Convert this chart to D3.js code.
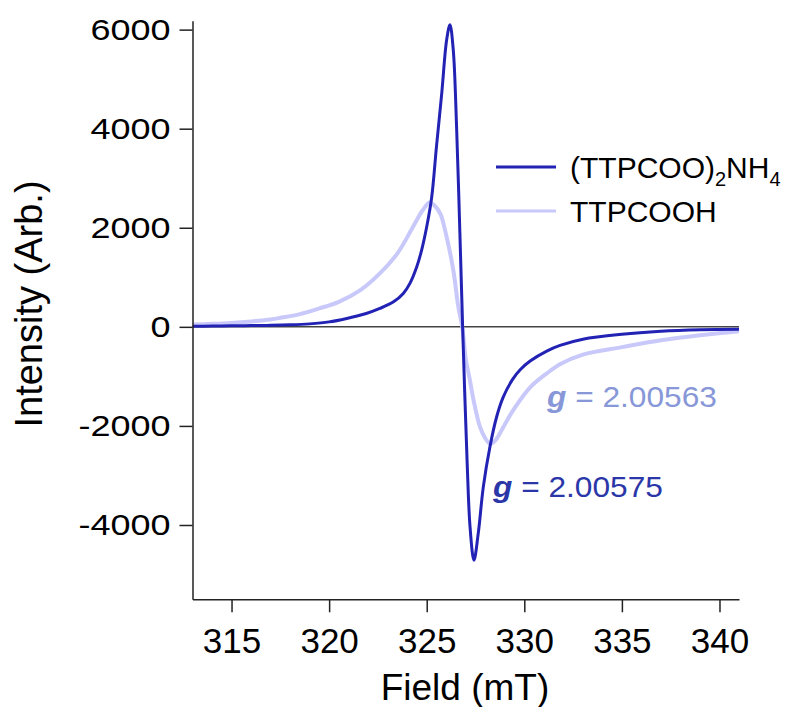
<!DOCTYPE html>
<html>
<head>
<meta charset="utf-8">
<script src="https://cdn.jsdelivr.net/npm/d3@7"></script>
<style>
  body { margin:0; background:#fff; }
  svg { display:block; font-family:"Liberation Sans", Arial, sans-serif; }
</style>
</head>
<body>
<div id="chart"></div>
<script>
// EPR spectra, field in mT, intensity arbitrary
var fieldNH4 = [313,314,315,316,317,318,319,320,320.9,321.9,322.6,323.3,323.8,324.14,324.49,324.74,325,325.25,325.5,325.77,326.02,326.19,326.36,326.53,326.7,326.84,326.96,327.08,327.22,327.42,327.64,327.9,328.24,328.58,328.92,329.4,329.8,330.3,331.15,331.83,333,335,337,339,341];
var valueNH4 = [10,15,20,25,30,40,60,100,170,270,372,505,674,877,1212,1550,2020,2600,3640,4715,5790,6100,5590,4040,1890,0,-1480,-2830,-4040,-4710,-4170,-3230,-2420,-1820,-1420,-1060,-860,-690,-490,-375,-250,-150,-90,-60,-50];

var fieldCOOH = [313,314,315,316,317,317.5,318.5,319.5,320.5,321.6,322.6,323.5,324.3,324.8,325.15,325.4,325.7,326,326.36,326.62,326.82,327,327.2,327.4,327.73,328,328.25,328.5,328.75,329.1,329.5,330.3,331.15,331.85,333,335,337,339,341];
var valueCOOH = [45,60,80,110,150,182,257,372,505,741,1079,1483,2020,2358,2510,2450,2280,1850,1150,400,0,-650,-1050,-1480,-2020,-2250,-2360,-2300,-2150,-1900,-1640,-1220,-940,-750,-560,-410,-270,-170,-90];

var xTicks = [315,320,325,330,335,340];
var yTicks = [-4000,-2000,0,2000,4000,6000];
var seriesNames = ['(TTPCOO)2NH4','TTPCOOH'];
var gValues = ['2.00575','2.00563'];

var W = 801, H = 707;
var darkLine = '#2222b4', lightLine = '#c8c8fa';
var darkText = '#2b37a8', lightText = '#8797d8';

var svg = d3.select('#chart').append('svg').attr('width',W).attr('height',H);

var x = d3.scaleLinear().domain([313,341]).range([192.5,739]);
var y = d3.scaleLinear().domain([-5500,6180]).range([599.3,20.7]);

function stretch(sel,k) {
  sel.each(function() {
    var len = this.getComputedTextLength();
    d3.select(this).attr('textLength',len*k).attr('lengthAdjust','spacingAndGlyphs');
  });
}

// zero line
svg.append('line')
  .attr('x1',x(313)).attr('x2',x(341)).attr('y1',y(0)).attr('y2',y(0))
  .attr('stroke','#444').attr('stroke-width',1.5);

// curves
svg.append('clipPath').attr('id','clip').append('rect')
  .attr('x',x(313)).attr('y',y(6180)).attr('width',x(341)-x(313)).attr('height',y(-5500)-y(6180));

var line = d3.line().x(d=>x(d[0])).y(d=>y(d[1])).curve(d3.curveCatmullRom.alpha(0.5));
var plot = svg.append('g').attr('clip-path','url(#clip)');
plot.append('path').datum(d3.zip(fieldCOOH,valueCOOH))
  .attr('d',line).attr('fill','none').attr('stroke',lightLine).attr('stroke-width',4);
plot.append('path').datum(d3.zip(fieldNH4,valueNH4))
  .attr('d',line).attr('fill','none').attr('stroke',darkLine).attr('stroke-width',3);

// axes
var yAxis = svg.append('g').attr('transform','translate('+x(313)+',0)')
  .call(d3.axisLeft(y).tickValues(yTicks).tickSize(13).tickSizeOuter(0).tickPadding(9).tickFormat(d=>String(d)));
yAxis.selectAll('text').attr('font-size',30).attr('fill','#000').attr('font-family',null);
stretch(yAxis.selectAll('text'),1.2);

var xAxis = svg.append('g').attr('transform','translate(0,'+y(-5500)+')')
  .call(d3.axisBottom(x).tickValues(xTicks).tickSize(13).tickSizeOuter(0).tickPadding(16).tickFormat(d=>String(d)));
xAxis.selectAll('text').attr('font-size',35).attr('fill','#000').attr('font-family',null);

svg.selectAll('.domain, .tick line').attr('stroke','#222').attr('stroke-width',1.5);

// axis titles
svg.append('text').attr('transform','translate(42,304) rotate(-90)')
  .attr('text-anchor','middle').attr('font-size',38).text('Intensity (Arb.)');
svg.append('text').attr('x',465).attr('y',700)
  .attr('text-anchor','middle').attr('font-size',37).text('Field (mT)');

// legend
var leg = svg.append('g');
leg.append('line').attr('x1',496).attr('x2',556).attr('y1',167).attr('y2',167)
  .attr('stroke',darkLine).attr('stroke-width',3);
leg.append('line').attr('x1',496).attr('x2',556).attr('y1',211).attr('y2',211)
  .attr('stroke',lightLine).attr('stroke-width',3);
var t1 = leg.append('text').attr('x',570).attr('y',178).attr('font-size',30);
t1.append('tspan').text('(TTPCOO)');
t1.append('tspan').attr('font-size',20).attr('dy',8).text('2');
t1.append('tspan').attr('dy',-8).text('NH');
t1.append('tspan').attr('font-size',20).attr('dy',8).text('4');
leg.append('text').attr('x',570).attr('y',222).attr('font-size',30).text(seriesNames[1]);

// g-factor labels
function gLabel(px,py,val,col) {
  var t = svg.append('text').attr('x',px).attr('y',py).attr('font-size',30).attr('fill',col);
  t.append('tspan').attr('font-weight','bold').attr('font-style','italic').text('g');
  t.append('tspan').text(' = '+val);
  t.attr('textLength',170).attr('lengthAdjust','spacingAndGlyphs');
}
gLabel(547,407,gValues[1],lightText);
gLabel(493,497,gValues[0],darkText);
</script>
</body>
</html>
